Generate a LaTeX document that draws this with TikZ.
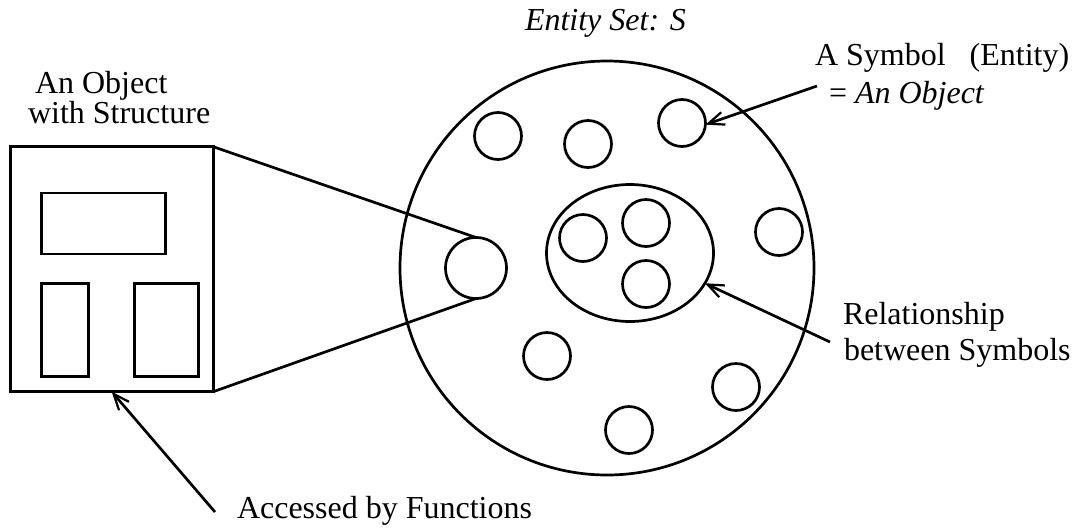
\documentclass[tikz,border=0pt]{standalone}
\usepackage{fontspec}
\setmainfont{Liberation Serif}
\usetikzlibrary{shapes.geometric,arrows.meta}

\begin{document}
\begin{tikzpicture}[x=1pt,y=-1pt,
  every node/.style={outer sep=0pt},
  ln/.style={line width=2.7pt},
  sym/.style={circle,draw,ln,minimum size=47pt,inner sep=0pt},
  slot/.style={rectangle,draw,ln,inner sep=0pt},
  lbl/.style={anchor=base west,inner sep=0pt,font=\fontsize{32}{36}\selectfont},
  arr/.style={ln,-{Straight Barb[length=16pt,width=13pt,line width=2.2pt]}}
]
\useasboundingbox (0,0) rectangle (1078,528);

% the entity set and the relationship inside it
\node[circle,draw,ln,minimum size=414pt,inner sep=0pt] (set) at (607,268) {};
\node[ellipse,draw,ln,minimum width=167pt,minimum height=137pt,inner sep=0pt] (rel) at (630,253) {};

% symbols
\node[sym] (s1) at (498,136) {};
\node[sym] (s2) at (588,144) {};
\node[sym] (s3) at (682,123) {};
\node[sym] (s4) at (779,232) {};
\node[sym] (s5) at (583,238) {};
\node[sym] (s6) at (646,223) {};
\node[sym] (s7) at (646,284) {};
\node[sym] (s8) at (547,356) {};
\node[sym] (s9) at (736,387) {};
\node[sym] (s10) at (629,430) {};
\node[circle,draw,ln,minimum size=61pt,inner sep=0pt] (obj) at (476,268) {};

% the object with its structure
\node[slot,minimum width=203pt,minimum height=245pt] (box) at (111.7,269.2) {};
\node[slot,minimum width=124pt,minimum height=61pt] (top) at (103.7,223.4) {};
\node[slot,minimum width=47pt,minimum height=93pt] (bl) at (65,329.7) {};
\node[slot,minimum width=64pt,minimum height=93pt] (br) at (166.3,329.7) {};

\draw[ln] (box.north east) -- (obj.north);
\draw[ln] (box.south east) -- (obj.south);

% labels
\node[lbl] (settitle) at (525,30) {\itshape Entity Set: S};
\node[lbl] (objl1) at (35,93) {An Object};
\node[lbl] (objl2) at (28,123) {with Structure};
\node[lbl] (syml1) at (815,65) {A Symbol\ \ \ (Entity)};
\node[lbl] (syml2) at (829,103) {= \itshape An Object};
\node[lbl] (rell1) at (843,324) {Relationship};
\node[lbl] (rell2) at (844,360) {between Symbols};
\node[lbl] (acc) at (237,518) {Accessed by Functions};

% pointers
\coordinate (symfrom) at (817,86);
\coordinate (relfrom) at (830,342);
\coordinate (accfrom) at (215,512);
\draw[arr] (symfrom) -- (s3.-4);
\draw[arr] (relfrom) -- (rel.-22);
\draw[arr] (accfrom) -- (box.south);
\end{tikzpicture}
\end{document}
